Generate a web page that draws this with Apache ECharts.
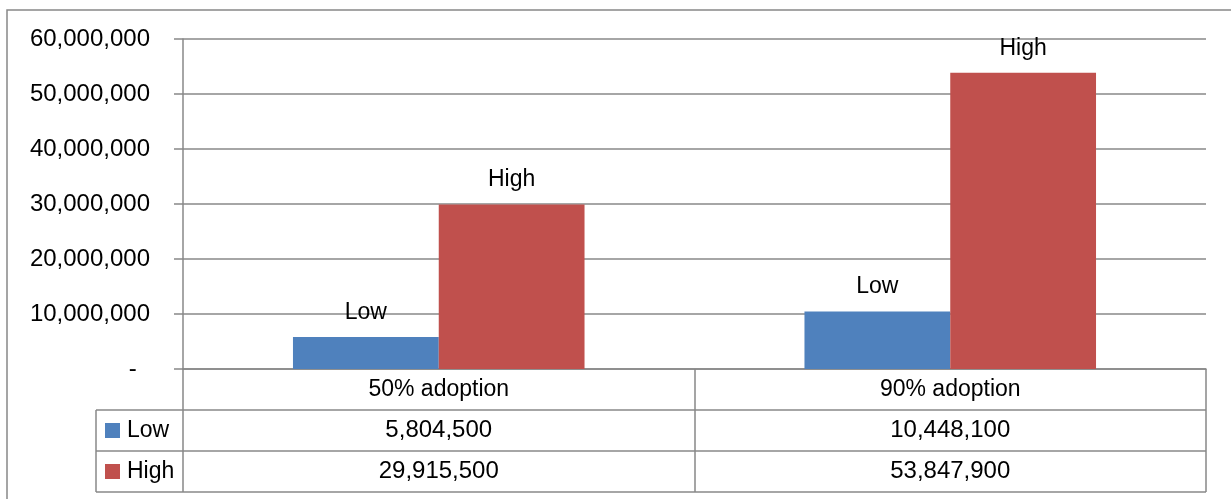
<!DOCTYPE html>
<html>
<head>
<meta charset="UTF-8">
<title>Adoption chart</title>
<script type="text/javascript" src="https://cdn.jsdelivr.net/npm/echarts@6/dist/echarts.min.js"></script>
<style>
  html, body { margin: 0; padding: 0; background: #fff; }
</style>
</head>
<body>
	<div id="box" style="width:1231px;height:499px;"></div>
	<script type="text/javascript">
		var categories = ['50% adoption', '90% adoption'];
		var lowValues = [5804500, 10448100];
		var highValues = [29915500, 53847900];
		var seriesNames = ['Low', 'High'];
		var colors = ['#4F81BD', '#C0504D'];

		var font = 'Liberation Sans';
		var lineColor = '#888888';
		var rowH = 41;
		var numSize = 24, wordSize = 23;

		function fmt(v) {
			return v === 0 ? '-  ' : v.toLocaleString('en-US');
		}

		var mychart = echarts.init(document.getElementById('box'));
		var option = {
			animation: false,
			textStyle: { fontFamily: font },
			grid: { left: 183, right: 25, top: 39, bottom: 130, containLabel: false },
			xAxis: {
				type: 'category',
				data: categories,
				axisLine: { show: true, lineStyle: { color: lineColor, width: 1.5 } },
				axisTick: { show: true, length: rowH * 3, lineStyle: { color: lineColor, width: 1.5 } },
				axisLabel: { color: '#000', fontSize: wordSize, fontFamily: font, margin: 9 }
			},
			yAxis: {
				type: 'value',
				min: 0,
				max: 60000000,
				interval: 10000000,
				axisLine: { show: true, lineStyle: { color: lineColor, width: 1.5 } },
				axisTick: { show: true, length: 9, lineStyle: { color: lineColor, width: 1.5 } },
				splitLine: { lineStyle: { color: lineColor, width: 1.5 } },
				axisLabel: { color: '#000', fontSize: numSize, fontFamily: font, margin: 33, formatter: fmt }
			},
			series: [{
				name: seriesNames[0],
				type: 'bar',
				data: lowValues,
				barGap: 0,
				barCategoryGap: '43%',
				itemStyle: { color: colors[0] },
				label: { show: true, position: 'top', distance: 13, formatter: seriesNames[0],
					color: '#000', fontSize: wordSize, fontFamily: font }
			}, {
				name: seriesNames[1],
				type: 'bar',
				data: highValues,
				barGap: 0,
				barCategoryGap: '43%',
				itemStyle: { color: colors[1] },
				label: { show: true, position: 'top', distance: 13, formatter: seriesNames[1],
					color: '#000', fontSize: wordSize, fontFamily: font }
			}]
		};
		mychart.setOption(option);

		// data table under the plot
		var y0 = mychart.convertToPixel({ yAxisIndex: 0 }, 0);
		var gridRight = 1231 - 25, tableLeft = 96;
		var els = [];
		// outer chart border
		els.push({ type: 'rect', shape: { x: 7, y: 10, width: 1260, height: 520 },
			style: { fill: 'none', stroke: lineColor, lineWidth: 1.5 }, z: 1 });
		for (var r = 1; r <= 3; r++) {
			var yy = y0 + rowH * r;
			els.push({ type: 'line', shape: { x1: tableLeft, y1: yy, x2: gridRight, y2: yy },
				style: { stroke: lineColor, lineWidth: 1.5 } });
		}
		els.push({ type: 'line', shape: { x1: tableLeft, y1: y0 + rowH, x2: tableLeft, y2: y0 + rowH * 3 },
			style: { stroke: lineColor, lineWidth: 1.5 } });
		var rows = [lowValues, highValues];
		for (var s = 0; s < rows.length; s++) {
			var cy = y0 + rowH * (s + 1) + rowH / 2;
			els.push({ type: 'rect', shape: { x: 105, y: cy - 7.5, width: 15, height: 15 },
				style: { fill: colors[s] } });
			els.push({ type: 'text', x: 127, y: cy,
				style: { text: seriesNames[s], fontSize: wordSize, fontFamily: font, fill: '#000',
					verticalAlign: 'middle' } });
			for (var c = 0; c < categories.length; c++) {
				var cx = mychart.convertToPixel({ xAxisIndex: 0 }, categories[c]);
				els.push({ type: 'text', x: cx, y: cy,
					style: { text: fmt(rows[s][c]), fontSize: numSize, fontFamily: font, fill: '#000',
						align: 'center', verticalAlign: 'middle' } });
			}
		}
		mychart.setOption({ graphic: els });
	</script>
</body>
</html>
